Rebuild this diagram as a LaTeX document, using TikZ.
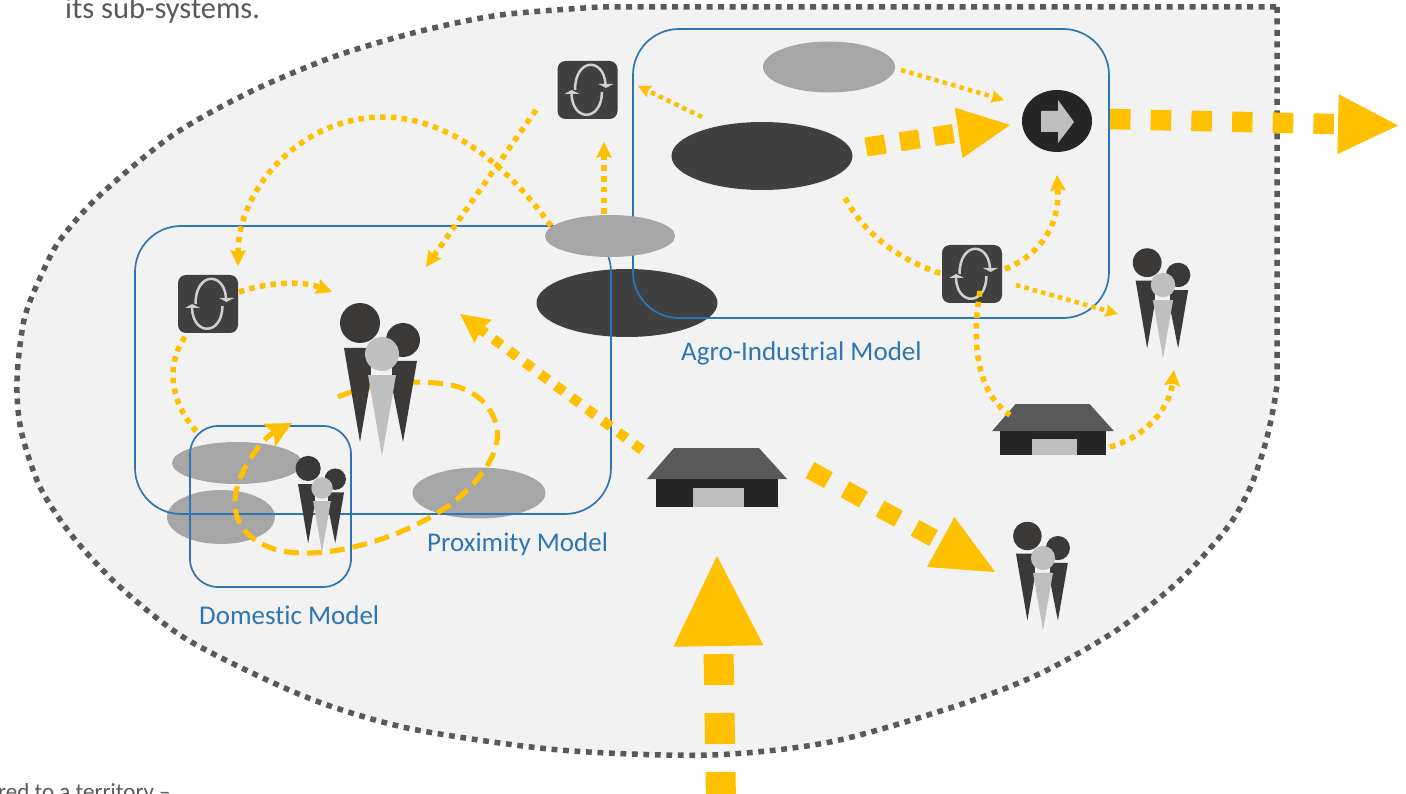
\documentclass[tikz,border=0pt]{standalone}
\usepackage{fontspec}
\setmainfont{Carlito}[Ligatures=NoCommon]
\usetikzlibrary{arrows.meta,shapes.geometric}
\definecolor{blobfill}{HTML}{F2F2F2}
\definecolor{bloblin}{HTML}{595959}
\definecolor{modelblue}{HTML}{2E75B6}
\definecolor{flow}{HTML}{FFC000}
\definecolor{lightgrey}{HTML}{A6A6A6}
\definecolor{darkgrey}{HTML}{404040}
\definecolor{nearblack}{HTML}{262626}
\definecolor{palegrey}{HTML}{BFBFBF}
\definecolor{persondark}{HTML}{3B3838}
\definecolor{iconline}{HTML}{D0D0D0}
\tikzset{
  model/.style={draw=modelblue,line width=1.7pt,rounded corners=#1},
  modellabel/.style={text=modelblue,font=\fontsize{27}{30}\selectfont,anchor=base west,inner sep=0pt},
  cliptext/.style={text=bloblin,anchor=base west,inner sep=0pt},
  lightell/.style={ellipse,fill=lightgrey,inner sep=0pt},
  dotline/.style={draw=flow,line width=5.5pt,dash pattern=on 5.5pt off 5.3pt},
  dotflow/.style={dotline,-{Stealth[length=16pt,width=16pt,inset=2.5pt,line width=0pt]}},
  fineflow/.style={draw=flow,line width=4.5pt,dash pattern=on 4.5pt off 4.2pt,-{Stealth[length=13pt,width=13pt,inset=2pt,line width=0pt]}},
  midflow/.style={draw=flow,line width=5pt,dash pattern=on 15pt off 8pt,-{Stealth[length=26pt,width=26pt,inset=5pt,line width=0pt]}},
  iconbox/.style={fill=darkgrey,rounded corners=8pt,minimum width=60pt,minimum height=58pt,inner sep=0pt},
  territory/.style={bloblin,line width=5.5pt,dash pattern=on 5.8pt off 5.7pt},
}
\newcommand{\blobpath}{(1277,7) -- (1277,385) -- plot[smooth,tension=0.5] coordinates {(1277,385) (1273,410) (1265,445) (1250,488) (1227,528) (1180,580) (1117,630) (1037,675) (950,708) (830,742) (710,755) (560,750) (417,730) (333,707) (267,680) (183,637) (120,587) (73,537) (40,487) (21,430) (17,380) (24,320) (40,278) (60,240) (100,195) (173,135) (250,92) (333,57) (417,32) (500,15) (600,7)} -- cycle}
\newcommand{\personfig}[4]{% name, x, y, scale
  \begin{scope}[shift={(#2,#3)},scale=#4]
    \fill[persondark] (-38,-6) -- (-6,-6) -- (-22,88) -- cycle;
    \fill[persondark] (5,7) -- (35,7) -- (21,88) -- cycle;
    \fill[persondark] (-22,-31) circle (20);
    \fill[persondark] (21,-14) circle (17);
    \fill[blobfill] (-11,8) rectangle (10,22);
    \fill[palegrey] (0,0) circle (17);
    \fill[palegrey] (-14,21) -- (14,21) -- (0,102) -- cycle;
  \end{scope}
  \coordinate (#1) at (#2,#3);
}
\newcommand{\barnfig}[4]{% name, x, y, scale
  \begin{scope}[shift={(#2,#3)},scale=#4]
    \fill[bloblin] (-70,0) -- (-43,-31) -- (42,-31) -- (70,0) -- cycle;
    \fill[nearblack] (-61,0) rectangle (61,28);
    \fill[palegrey] (-24,9) rectangle (27,28);
  \end{scope}
  \coordinate (#1) at (#2,#3);
}
\newcommand{\loopicon}[3]{% name, x, y
  \node[iconbox] (#1) at (#2,#3) {};
  \begin{scope}[shift={(#2,#3)}]
    \draw[draw=iconline,line width=2.5pt] (-12.5,0) .. controls (-12.5,-32) and (16,-33) .. (18,-6);
    \draw[draw=iconline,line width=2.5pt] (14.5,2) .. controls (14,32) and (-15,32) .. (-16,4);
    \fill[iconline] (11,-6) -- (26,-6) -- (18.5,-2) -- cycle;
    \fill[iconline] (-23,4) -- (-8,4) -- (-16,0) -- cycle;
  \end{scope}
}
\begin{document}
\begin{tikzpicture}[x=1pt,y=-1pt]
\useasboundingbox (0,0) rectangle (1406,794);
\clip (0,0) rectangle (1406,794);
% territory outline
\fill[blobfill] \blobpath;
\draw[territory] \blobpath;
% clipped texts
\node[cliptext,font=\fontsize{30.5}{34}\selectfont] (subsys) at (65,18.5) {its sub-systems.};
\node[cliptext,font=\fontsize{23}{26}\selectfont] (terr) at (-2,799) {red to a territory –};
% ellipses
\node[lightell,minimum width=132pt,minimum height=51pt] (eTop) at (829,67) {};
\node[lightell,minimum width=130pt,minimum height=42pt] (eA) at (237,463) {};
\node[lightell,minimum width=108pt,minimum height=54pt] (eB) at (221,517) {};
\node[lightell,minimum width=133pt,minimum height=51pt] (eC) at (479,493) {};
\node[ellipse,fill=darkgrey,inner sep=0pt,minimum width=181pt,minimum height=68pt] (dA) at (762,156) {};
\node[ellipse,fill=darkgrey,inner sep=0pt,minimum width=181pt,minimum height=68pt] (dB) at (627,303) {};
% models
\draw[model=46pt] (633,29) rectangle (1109,318);
\draw[model=46pt] (135,226) rectangle (611,514);
\node[lightell,minimum width=130pt,minimum height=42pt] (eMid) at (610,236) {};
\draw[model=28pt] (190,426) rectangle (351,587);
\node[modellabel] (lAgro) at (681,360) {Agro-Industrial Model};
\node[modellabel] (lProx) at (427,551) {Proximity Model};
\node[modellabel] (lDom) at (199,624.5) {Domestic Model};
% exit node
\node[ellipse,fill=nearblack,inner sep=0pt,minimum width=70pt,minimum height=62pt] (exit) at (1057,121) {};
\fill[palegrey] (1041,111) -- (1058,111) -- (1058,100) -- (1074,122) -- (1058,143) -- (1058,132) -- (1041,132) -- cycle;
% medium loop
\coordinate (mS) at (338,397);
\coordinate (mE) at (292,423);
\draw[midflow] (mS) .. controls (370,383) and (420,378) .. (455,386) .. controls (490,395) and (500,425) .. (497,440) .. controls (493,470) and (460,500) .. (437,513) .. controls (400,537) and (340,555) .. (300,553) .. controls (260,552) and (233,530) .. (235,500) .. controls (236,475) and (260,440) .. (mE);
% people
\personfig{pBig}{382}{354}{1}
\personfig{pSmall}{322}{488}{0.63}
\personfig{pRight}{1163}{285}{0.72}
\personfig{pLow}{1043}{558}{0.71}
% barns
\barnfig{bBig}{717}{479}{1}
\barnfig{bSmall}{1053}{431}{0.87}
% icons
\loopicon{iTop}{587.5}{90}
\loopicon{iLeft}{208}{304}
\loopicon{iRight}{972}{274}
% dotted connectors
\coordinate (c1) at (1004,100);
\draw[fineflow] (901,70) -- (c1);
\coordinate (c2) at (638,86);
\draw[fineflow] (702,117) -- (c2);
\coordinate (c3) at (604,142);
\draw[dotflow] (604,214) -- (c3);
\coordinate (c4) at (426,267);
\draw[dotflow] (536,110) -- (c4);
\coordinate (c5) at (238,266);
\draw[dotflow] (551,226) .. controls (500,155) and (440,117) .. (383,117) .. controls (300,117) and (238,190) .. (c5);
\coordinate (c6) at (332,292);
\draw[dotflow] (239,292) .. controls (265,283) and (300,280) .. (c6);
\draw[dotline] (185,337) .. controls (165,365) and (170,405) .. (200,435);
\draw[dotline] (845,198) .. controls (865,235) and (900,260) .. (iRight.west);
\coordinate (c7) at (1057,175);
\draw[dotflow] (1005,269) .. controls (1040,255) and (1060,225) .. (c7);
\coordinate (c8) at (1118,314);
\draw[fineflow] (1016,285) -- (c8);
\draw[dotline] (980,291) .. controls (970,350) and (980,395) .. (1010,415);
\coordinate (c9) at (1174,370);
\draw[dotflow] (1110,447) .. controls (1150,435) and (1170,405) .. (c9);
% thick connectors
\coordinate (t1) at (1398,125.5);
\draw[draw=flow,line width=20.5pt,dash pattern=on 20.5pt off 20.2pt,-{Triangle[length=60pt,width=60pt,line width=0pt]}] (1110,119) -- (t1);
\coordinate (t2) at (1010,125);
\draw[draw=flow,line width=19pt,dash pattern=on 19.5pt off 15pt,-{Triangle[length=52pt,width=51pt,line width=0pt]}] (866,147) -- (t2);
\coordinate (t3) at (460,314);
\draw[draw=flow,line width=10pt,dash pattern=on 10pt off 9.5pt,-{Stealth[length=29pt,width=29pt,inset=3pt,line width=0pt]}] (642,450) -- (t3);
\coordinate (t4) at (995,572);
\draw[draw=flow,line width=18pt,dash pattern=on 21pt off 19pt,-{Triangle[length=62pt,width=57pt,line width=0pt]}] (810,470) -- (t4);
\coordinate (t5) at (717,556);
\draw[draw=flow,line width=30pt,dash pattern=on 31pt off 28pt,-{Triangle[length=90pt,width=90pt,line width=0pt]}] (721,803) -- (t5);
\end{tikzpicture}
\end{document}
